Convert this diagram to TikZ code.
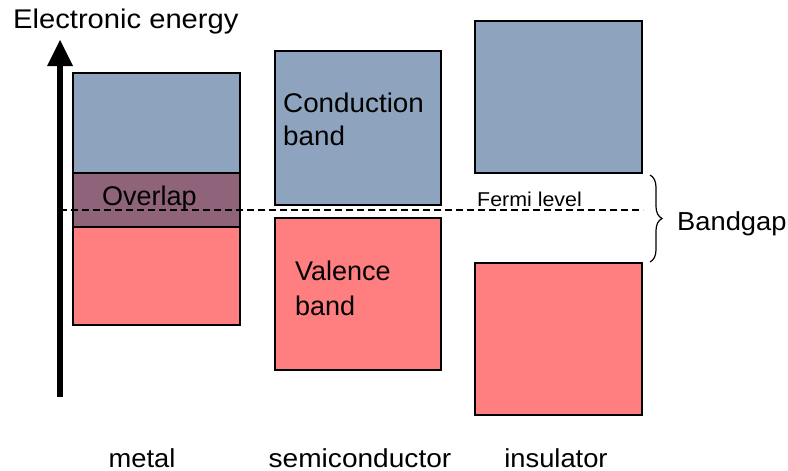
\documentclass[tikz,border=0pt]{standalone}
\usepackage{fontspec}
\setmainfont{Liberation Sans}
\usepackage{graphicx}
\usetikzlibrary{decorations.pathreplacing}
\definecolor{cband}{RGB}{142,164,190}
\definecolor{vband}{RGB}{255,126,128}
\definecolor{olap}{RGB}{143,99,122}
\newcommand{\hs}[2]{\scalebox{#1}[1]{#2}}
\begin{document}
\begin{tikzpicture}[x=1pt,y=-1pt,
  bandbox/.style={draw=black,line width=2pt},
  big/.style={font=\fontsize{26}{30}\selectfont,inner sep=0pt,anchor=base west},
  inbox/.style={font=\fontsize{27}{30}\selectfont,inner sep=0pt,anchor=base west},
  small/.style={font=\fontsize{20}{24}\selectfont,inner sep=0pt,anchor=base west},
  lbl/.style={font=\fontsize{26}{30}\selectfont,inner sep=0pt,anchor=base,text depth=0pt}]
\useasboundingbox (0,0) rectangle (788,471);
% axis arrow
\coordinate (ax0) at (60,397);
\coordinate (ax1) at (60,64);
\draw[line width=5.5pt] (ax0) -- (ax1);
\fill (47,66) -- (73,66) -- (60,40) -- cycle;
\node[big,font=\fontsize{27}{30}\selectfont] (energy) at (13,28) {\hs{1.08}{Electronic energy}};
% metal
\draw[bandbox,fill=cband] (73,73) rectangle (240,173);
\draw[bandbox,fill=olap] (73,173) rectangle (240,227);
\draw[bandbox,fill=vband] (73,227) rectangle (240,325);
\node[inbox] (overlap) at (102,205) {Overlap};
% semiconductor
\draw[bandbox,fill=cband] (275,51) rectangle (441,205);
\draw[bandbox,fill=vband] (275,218) rectangle (441,370);
\node[inbox] (cond1) at (283,112) {\hs{1.03}{Conduction}};
\node[inbox] (cond2) at (283,145) {\hs{1.03}{band}};
\node[inbox] (val1) at (295,280) {Valence};
\node[inbox] (val2) at (295,315) {band};
% insulator
\draw[bandbox,fill=cband] (475,21) rectangle (642,173);
\draw[bandbox,fill=vband] (475,263) rectangle (642,415);
% Fermi level
\coordinate (f0) at (60,210);
\coordinate (f1) at (643,210);
\draw[line width=1.3pt,dash pattern=on 7pt off 4pt] (f0) -- (f1);
\node[small] (fermi) at (477,206) {\hs{1.07}{Fermi level}};
% brace
\coordinate (b0) at (650,175);
\coordinate (b1) at (650,262);
\draw[line width=1.2pt,decorate,decoration={brace,amplitude=12pt,aspect=0.5}] (b0) -- (b1);
\node[big] (gap) at (677,230) {\hs{1.05}{Bandgap}};
% labels
\node[lbl] (metal) at (142,467) {\hs{1.05}{metal}};
\node[lbl] (semi) at (360,467) {\hs{1.08}{semiconductor}};
\node[lbl] (ins) at (556,467) {\hs{1.05}{insulator}};
\end{tikzpicture}
\end{document}
